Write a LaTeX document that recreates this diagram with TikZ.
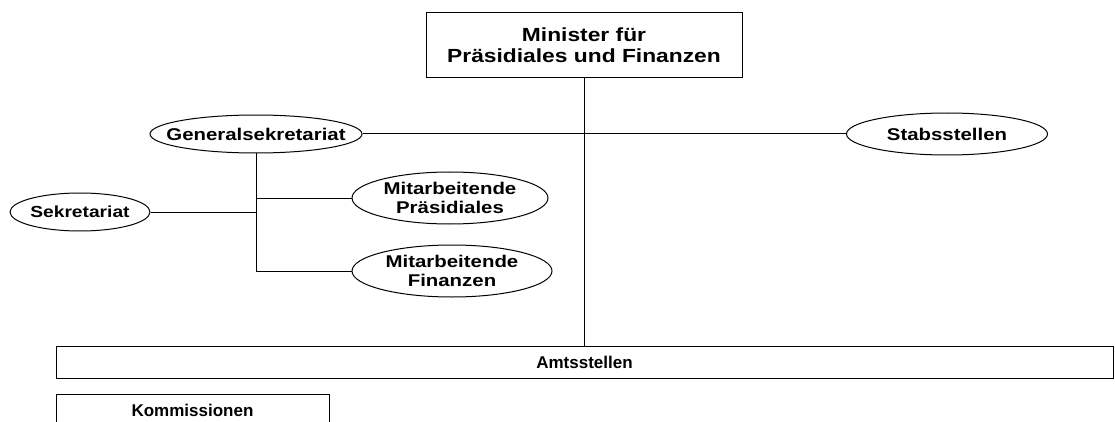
\documentclass[tikz,border=0pt]{standalone}
\usepackage{fontspec}
\setmainfont{Liberation Sans}
\newfontfamily\lab[FakeStretch=1.2]{Liberation Sans}
\usetikzlibrary{shapes.geometric}
\tikzset{
  oval/.style={ellipse, draw, line width=1pt, inner sep=0pt},
  ovaltext/.style={font=\lab\bfseries\fontsize{17}{19}\selectfont, align=center, inner sep=0pt},
  box/.style={rectangle, draw, line width=1pt, inner sep=0pt, align=center},
  boxtext/.style={font=\bfseries\fontsize{17}{19}\selectfont},
  link/.style={line width=1pt}
}
\begin{document}
\begin{tikzpicture}[x=1pt,y=-1pt]
\clip (0,0) rectangle (1115,422);
\node[box, minimum width=316pt, minimum height=65pt,
      font=\lab\bfseries\fontsize{19}{21}\selectfont] (min) at (584,45.5)
      {Minister für\\Präsidiales und Finanzen};
\node[oval, minimum width=212pt, minimum height=38pt,
      label={[ovaltext]center:Generalsekretariat}] (gen) at (256,134) {};
\node[oval, minimum width=201pt, minimum height=42pt,
      label={[ovaltext]center:Stabsstellen}] (stab) at (947,134) {};
\node[oval, minimum width=140pt, minimum height=38pt,
      label={[ovaltext, font=\lab\bfseries\fontsize{16}{18}\selectfont]center:Sekretariat}] (sek) at (80,212) {};
\node[oval, minimum width=196pt, minimum height=52pt,
      label={[ovaltext]center:{Mitarbeitende\\Präsidiales}}] (mp) at (450,198) {};
\node[oval, minimum width=200pt, minimum height=52pt,
      label={[ovaltext]center:{Mitarbeitende\\Finanzen}}] (mf) at (452,271) {};
\node[box, boxtext, minimum width=1057pt, minimum height=32pt] (amt) at (584.5,362) {Amtsstellen};
\node[box, boxtext, minimum width=273pt, minimum height=32pt] (kom) at (192.5,410) {Kommissionen};
\draw[link] (min.south) -- (min.south |- amt.north);
\draw[link] (gen.east) -- (stab.west);
\draw[link] (gen.south) -- (gen.south |- mf.west) -- (mf.west);
\draw[link] (sek.east) -- (gen.south |- sek.east);
\draw[link] (gen.south |- mp.west) -- (mp.west);
\end{tikzpicture}
\end{document}
